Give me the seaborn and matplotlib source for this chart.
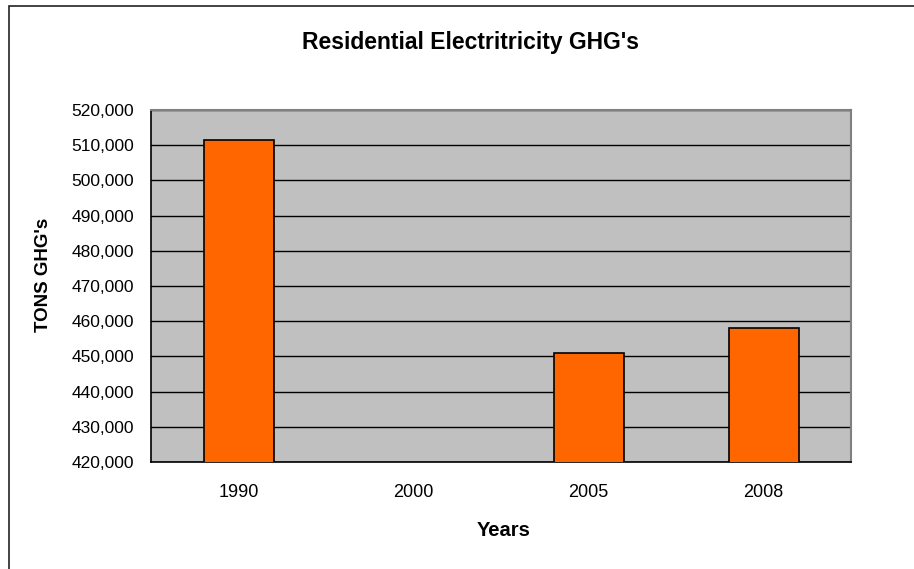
import matplotlib
matplotlib.use("Agg")
import matplotlib.pyplot as plt
import matplotlib.ticker as mticker
from matplotlib.patches import Rectangle
import numpy as np
import pandas as pd
import seaborn as sns

# Residential electricity greenhouse-gas emissions (tons)
years = ["1990", "2000", "2005", "2008"]
tons = [511600, np.nan, 451100, 458100]
y_ticks = list(range(420000, 520001, 10000))

df = pd.DataFrame({"Year": years, "Tons": tons})

sns.set_theme(style="white")
plt.rcParams["font.family"] = ["Liberation Sans", "DejaVu Sans"]
plt.rcParams["text.color"] = "black"
plt.rcParams["axes.labelcolor"] = "black"

fig = plt.figure(figsize=(9.14, 5.69), dpi=100)
ax = fig.add_axes([0.1652, 0.188, 0.766, 0.6186])
ax.set_facecolor("#C0C0C0")

sns.barplot(data=df, x="Year", y="Tons", order=years, color="#FF6600",
            width=0.4, edgecolor="black", linewidth=1.2, saturation=1,
            ax=ax, zorder=3)

ax.set_ylim(420000, 520000)
ax.set_xlim(-0.5, len(years) - 0.5)
ax.set_yticks(y_ticks)
ax.yaxis.set_major_formatter(mticker.FuncFormatter(lambda v, p: f"{int(v):,}"))
ax.grid(axis="y", color="black", linewidth=1.0, zorder=1)
ax.set_axisbelow(True)

# category ticks sit between the bars
ax.set_xticks(np.arange(len(years)))
ax.set_xticklabels(years)
ax.set_xticks(np.arange(-0.5, len(years), 1.0), minor=True)
ax.tick_params(axis="x", which="major", length=0, pad=16, labelsize=13, colors="black")
ax.tick_params(axis="x", which="minor", length=6, width=1, color="black", direction="out")
ax.tick_params(axis="y", which="major", length=6, width=1, color="black",
               direction="out", labelsize=12.5, colors="black", pad=6)

for side in ["left", "bottom"]:
    ax.spines[side].set_color("black")
    ax.spines[side].set_linewidth(1.2)
for side in ["top", "right"]:
    ax.spines[side].set_visible(True)
    ax.spines[side].set_color("#808080")
    ax.spines[side].set_linewidth(1.5)

ax.set_xlabel("")
ax.set_ylabel("")
fig.text(504 / 914, 1 - 531 / 569, "Years", ha="center", va="center",
         fontsize=14.5, fontweight="bold")
fig.text(44 / 914, 1 - 275 / 569, "TONS GHG's", ha="center", va="center",
         rotation=90, fontsize=13.5, fontweight="bold")
fig.text(470 / 914, 1 - 42 / 569, "Residential Electritricity GHG's", ha="center",
         va="center", fontsize=16.5, fontweight="bold")

# chart frame
fig.patches.append(Rectangle((9 / 914, -0.1), 1.2, 1 - 6 / 569 + 0.1,
                             transform=fig.transFigure, fill=False,
                             edgecolor="#222222", linewidth=1.2))

fig.savefig("out.png", dpi=100)
